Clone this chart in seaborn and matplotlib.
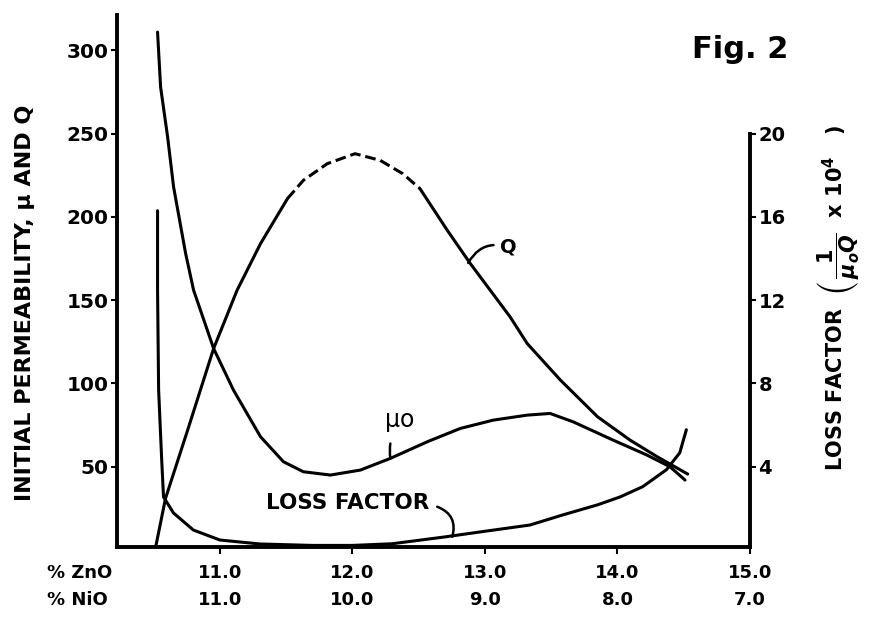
import matplotlib
matplotlib.use("Agg")
import matplotlib.pyplot as plt
import seaborn as sns

sns.set_theme(style="white")
plt.rcParams['font.family'] = ['DejaVu Sans']
plt.rcParams['font.weight'] = 'bold'
plt.rcParams['text.color'] = 'black'
plt.rcParams['xtick.color'] = 'black'
plt.rcParams['ytick.color'] = 'black'
plt.rcParams['axes.labelcolor'] = 'black'

# values
zno_ticks = [11.0, 12.0, 13.0, 14.0, 15.0]
nio_labels = ["11.0", "10.0", "9.0", "8.0", "7.0"]
left_ticks = [50, 100, 150, 200, 250, 300]
right_ticks = [4, 8, 12, 16, 20]

# initial permeability mu0 (left axis)
mu_x = [10.53, 10.553, 10.606, 10.651, 10.742, 10.802, 10.953, 11.103, 11.307, 11.48,
        11.63, 11.834, 12.06, 12.286, 12.565, 12.814, 13.063, 13.319, 13.492, 13.665,
        13.967, 14.223, 14.396, 14.51]
mu_y = [311, 278, 248, 218, 178, 156, 121, 96, 68, 53,
        47, 45, 48, 55, 65, 73, 78, 81, 82, 77,
        66, 57, 50, 42]

# Q (left axis), dashed between index 6 and 12
q_x = [10.515, 10.59, 10.757, 10.953, 11.13, 11.307, 11.51, 11.63, 11.81, 12.02,
       12.21, 12.38, 12.51, 12.716, 12.89, 13.19, 13.319, 13.57, 13.85, 14.095,
       14.3, 14.53]
q_y = [1.5, 31, 72, 121, 156, 184, 211, 222, 232, 238,
       234, 226, 217, 192, 172, 140, 124, 102, 80, 66,
       56, 45.6]
dash_start, dash_end = 6, 12

# loss factor 1/(mu0 Q) x 1e4 (right axis)
loss_x = [10.53, 10.53, 10.538, 10.56, 10.575, 10.65, 10.8, 11.0, 11.3, 11.7,
          12.0, 12.3, 12.7, 13.0, 13.34, 13.59, 13.85, 14.02, 14.19, 14.37,
          14.47, 14.52]
loss_y = [16.3, 12.5, 7.7, 4.5, 2.55, 1.78, 0.96, 0.48, 0.29, 0.22,
          0.22, 0.3, 0.63, 0.9, 1.2, 1.69, 2.17, 2.55, 3.04, 3.86,
          4.67, 5.78]

W, H = 871, 617
fig = plt.figure(figsize=(W / 100, H / 100), dpi=100)
ax = fig.add_axes([117 / W, 1 - 547 / H, (750 - 117) / W, (547 - 15) / H])
ax2 = ax.twinx()

lw = 2.2
kw = dict(color='black', lw=lw, sort=False, estimator=None, legend=False)
sns.lineplot(x=mu_x, y=mu_y, ax=ax, **kw)
sns.lineplot(x=q_x[:dash_start + 1], y=q_y[:dash_start + 1], ax=ax, **kw)
sns.lineplot(x=q_x[dash_end:], y=q_y[dash_end:], ax=ax, **kw)
dashed = sns.lineplot(x=q_x[dash_start:dash_end + 1], y=q_y[dash_start:dash_end + 1], ax=ax, **kw)
dashed.lines[-1].set_dashes((3.5, 1.6))
sns.lineplot(x=loss_x, y=loss_y, ax=ax2, **kw)

ax.set_xlim(10.224, 15.0)
ax.set_ylim(1.8, 321.3)
ax2.set_ylim(1.8 / 12.5, 321.3 / 12.5)

for a in (ax, ax2):
    a.set_facecolor('none')
    a.spines['top'].set_visible(False)
    for s in a.spines.values():
        s.set_linewidth(2.8)
        s.set_color('black')
ax.spines['right'].set_visible(False)
ax2.spines['left'].set_visible(False)
ax2.spines['bottom'].set_visible(False)
ax2.spines['right'].set_bounds(1.8 / 12.5, 20)

ax.set_yticks(left_ticks)
ax.set_yticklabels([str(v) for v in left_ticks], fontsize=14.5, fontweight='bold')
ax.tick_params(axis='y', direction='out', length=4, width=1.5, pad=2, left=True)
ax2.set_yticks(right_ticks)
ax2.set_yticklabels([str(v) for v in right_ticks], fontsize=14, fontweight='bold')
ax2.tick_params(axis='y', direction='out', length=4, width=1.5, pad=2, right=True)

ax.set_xticks(zno_ticks)
ax.set_xticklabels([f"{z:.1f}\n{n}" for z, n in zip(zno_ticks, nio_labels)],
                   fontsize=13, fontweight='bold', linespacing=1.65)
ax.tick_params(axis='x', direction='out', length=5, width=1.5, pad=7, bottom=True)

fig.text(47 / W, 1 - 564 / H, "% ZnO\n% NiO", ha='left', va='top',
         fontsize=13, fontweight='bold', linespacing=1.65)

fig.text(25 / W, 1 - 303 / H, "INITIAL PERMEABILITY, \u03bc AND Q", rotation=90,
         ha='center', va='center', fontsize=16, fontweight='bold')
fig.text(838 / W, 1 - 298 / H,
         r"LOSS FACTOR  $\left(\,\dfrac{1}{\mu_o Q}\right.$  x 10$^4$   )",
         rotation=90, ha='center', va='center', fontsize=15, fontweight='bold')

fig.text(740 / W, 1 - 50 / H, "Fig. 2", ha='center', va='center', fontsize=22,
         fontweight='bold')

# curve labels with leader lines
lead = dict(arrowstyle='-', color='black', lw=1.8)
ax.annotate("Q", xy=(12.874, 172.4), xytext=(13.11, 182), fontsize=14, fontweight='bold',
            ha='left', va='center',
            arrowprops=dict(connectionstyle="arc3,rad=0.4", shrinkA=2, shrinkB=0, **lead))
ax.annotate("\u03bco", xy=(12.286, 55.3), xytext=(12.36, 78), fontsize=17, fontweight='normal',
            ha='center', va='center',
            arrowprops=dict(connectionstyle="arc3,rad=0.2", shrinkA=6, shrinkB=0, **lead))
ax.text(12.58, 28.5, "LOSS FACTOR", fontsize=15.5, fontweight='bold', ha='right', va='center')
ax.annotate("", xy=(12.754, 8.0), xytext=(12.64, 26.0),
            arrowprops=dict(connectionstyle="arc3,rad=-0.45", shrinkA=0, shrinkB=0, **lead))

fig.savefig("out.png", dpi=100)
